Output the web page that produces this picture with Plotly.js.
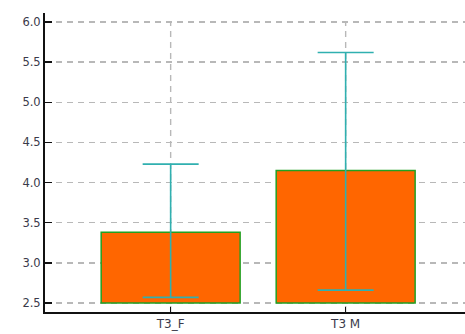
<!DOCTYPE html>
<html>
<head>
<meta charset="utf-8">
<script src="https://cdn.plot.ly/plotly-3.0.1.min.js"></script>
<style>
  html, body { margin: 0; padding: 0; background: #fff; }
  #chart { width: 465px; height: 334px; }
</style>
</head>
<body>
<div id="chart"></div>
<script>
// Group means with their upper and lower error limits
const categories = ['T3_F', 'T3 M'];
const means = [3.38, 4.15];
const upperLimits = [4.23, 5.62];
const lowerLimits = [2.57, 2.66];
const barBase = 2.5;
const yTickValues = [2.5, 3.0, 3.5, 4.0, 4.5, 5.0, 5.5, 6.0];
const yTickLabels = ['2.5', '3.0', '3.5', '4.0', '4.5', '5.0', '5.5', '6.0'];

const heights = means.map(m => m - barBase);
const errPlus = means.map((m, i) => upperLimits[i] - m);
const errMinus = means.map((m, i) => m - lowerLimits[i]);

const yRange = [2.388, 6.112];
const gridColor = '#b8b8b8';
const gridDash = '6px,5px';

const trace = {
  type: 'bar',
  x: categories,
  y: heights,
  base: categories.map(() => barBase),
  width: 0.794,
  marker: {
    color: '#ff6600',
    line: { color: '#22a022', width: 1.5 }
  },
  error_y: {
    type: 'data',
    symmetric: false,
    array: errPlus,
    arrayminus: errMinus,
    color: '#30b0b0',
    thickness: 1.6,
    width: 28
  },
  hoverinfo: 'none'
};

// Vertical grid lines at each category, running up to the top tick only
const topTick = yTickValues[yTickValues.length - 1];
const vGrid = categories.map(c => ({
  type: 'line', layer: 'below',
  xref: 'x', yref: 'y',
  x0: c, x1: c, y0: yRange[0], y1: topTick,
  line: { color: gridColor, width: 1.4, dash: gridDash }
}));

const layout = {
  width: 465,
  height: 334,
  margin: { l: 45, r: 0, t: 13, b: 22, pad: 0 },
  paper_bgcolor: '#ffffff',
  plot_bgcolor: '#ffffff',
  showlegend: false,
  font: { family: 'DejaVu Sans, Liberation Sans, sans-serif', size: 12, color: '#3a3a4a' },
  shapes: vGrid,
  xaxis: {
    type: 'category',
    range: [-0.718, 1.682],
    showgrid: false,
    showline: true,
    linecolor: '#111',
    linewidth: 2,
    ticks: 'inside',
    ticklen: 5,
    tickwidth: 1.5,
    tickcolor: '#111',
    zeroline: false,
    fixedrange: true
  },
  yaxis: {
    range: yRange,
    tickvals: yTickValues,
    ticktext: yTickLabels,
    tickfont: { size: 11.5 },
    showgrid: true,
    gridcolor: gridColor,
    gridwidth: 1.4,
    griddash: gridDash,
    showline: true,
    linecolor: '#111',
    linewidth: 2,
    ticks: 'inside',
    ticklen: 7,
    tickwidth: 1.5,
    tickcolor: '#111',
    zeroline: false,
    fixedrange: true
  }
};

Plotly.newPlot('chart', [trace], layout, { displayModeBar: false, staticPlot: true });
</script>
</body>
</html>
